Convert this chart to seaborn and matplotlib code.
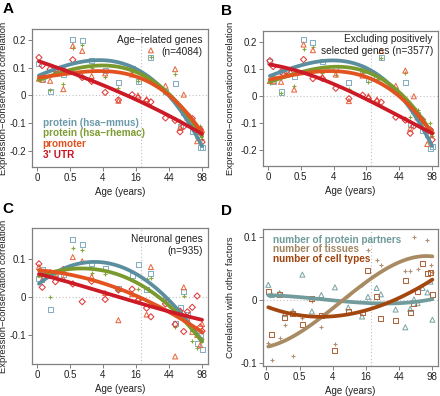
import numpy as np
import pandas as pd
import matplotlib
matplotlib.use('Agg')
import matplotlib.pyplot as plt
import seaborn as sns

# age axis: tick ages are drawn equally spaced
tick_ages = [0, 0.5, 4, 16, 44, 98]
tick_labels = ['0', '0.5', '4', '16', '44', '98']
ages = [0.03, 0.08, 0.2, 0.28, 0.4, 0.8, 1.8, 2.8, 4.8, 9.6, 14.6, 17.7,
        25, 28.6, 41, 54, 62, 68, 74, 82, 90, 95, 98]

# panel A - age-related genes
a_mmus = [0.116, 0.058, 0.016, 0.091, 0.074, 0.202, 0.198, 0.126, 0.090, 0.048, 0.096, 0.050,
          0.066, 0.137, 0.013, 0.042, -0.111, -0.060, -0.077, -0.130, -0.139, -0.187, -0.188]
a_rhemac = [0.058, 0.070, 0.020, 0.088, 0.041, 0.170, 0.182, 0.100, 0.065, 0.028, 0.084, 0.053,
            0.055, 0.139, 0.008, 0.078, -0.091, -0.062, -0.063, -0.107, -0.152, -0.109, -0.157]
a_prom = [0.061, 0.057, 0.053, 0.078, 0.023, 0.179, 0.161, 0.070, 0.080, -0.019, 0.076, 0.000,
          -0.013, 0.163, 0.035, 0.095, -0.117, 0.003, -0.080, -0.096, -0.165, -0.120, -0.125]
a_utr = [0.137, 0.108, 0.095, 0.092, 0.093, 0.129, 0.065, 0.051, 0.011, -0.016, 0.003, -0.009,
         -0.019, -0.023, -0.081, -0.090, -0.131, -0.112, -0.077, -0.083, -0.133, -0.123, -0.168]

# panel B - excluding positively selected genes
b_mmus = [0.128, 0.053, 0.015, 0.091, 0.072, 0.211, 0.201, 0.127, 0.107, 0.052, 0.097, 0.062,
          0.070, 0.144, 0.019, 0.049, -0.106, -0.053, -0.070, -0.128, -0.143, -0.196, -0.190]
b_rhemac = [0.049, 0.074, 0.013, 0.086, 0.037, 0.174, 0.181, 0.087, 0.077, 0.028, 0.089, 0.054,
            0.063, 0.143, 0.019, 0.085, -0.080, -0.046, -0.052, -0.098, -0.149, -0.102, -0.150]
b_prom = [0.056, 0.055, 0.053, 0.078, 0.024, 0.192, 0.171, 0.072, 0.080, -0.019, 0.076, 0.000,
          -0.013, 0.168, 0.038, 0.095, -0.122, -0.001, -0.080, -0.099, -0.179, -0.125, -0.130]
b_utr = [0.132, 0.110, 0.090, 0.092, 0.093, 0.136, 0.065, 0.066, 0.029, -0.010, 0.003, -0.009,
         -0.020, -0.023, -0.079, -0.090, -0.139, -0.112, -0.079, -0.088, -0.133, -0.126, -0.163]

# panel C - neuronal genes
c_mmus = [0.049, 0.073, -0.032, 0.062, 0.059, 0.152, 0.139, 0.089, 0.076, 0.022, 0.058, 0.086,
          0.020, 0.063, -0.006, -0.070, -0.028, 0.014, -0.045, -0.083, -0.122, -0.102, -0.139]
c_rhemac = [0.074, 0.070, 0.001, 0.060, 0.063, 0.130, 0.124, 0.063, 0.062, 0.019, 0.008, 0.021,
            0.047, 0.052, -0.007, -0.079, -0.042, 0.003, -0.062, -0.115, -0.134, -0.105, -0.111]
c_prom = [0.080, 0.046, 0.067, 0.060, 0.048, 0.106, 0.095, 0.054, 0.011, -0.061, 0.008, -0.003,
          -0.046, 0.080, -0.002, -0.157, -0.038, 0.026, -0.055, -0.092, -0.100, -0.127, -0.071]
c_utr = [0.088, 0.026, 0.057, 0.041, 0.073, 0.035, -0.012, 0.042, -0.006, 0.019, 0.021, -0.009,
         -0.029, -0.052, -0.018, -0.072, -0.037, -0.091, -0.039, -0.027, 0.003, -0.079, -0.090]

# panel D - correlation with other factors
d_partners = [0.024, 0.008, 0.011, -0.022, -0.018, 0.040, -0.018, 0.008, 0.020, -0.012, -0.026, 0.005,
              0.019, 0.009, -0.015, -0.043, -0.014, 0.001, -0.005, 0.019, 0.012, 0.029, -0.031]
d_tissues = [-0.067, -0.095, -0.060, -0.039, -0.089, -0.029, -0.001, -0.043, -0.070, 0.006, 0.023, 0.079,
             0.063, 0.055, 0.000, 0.046, 0.045, 0.100, 0.049, 0.118, 0.094, 0.055, 0.044]
d_cells = [0.014, -0.055, 0.008, -0.027, -0.021, -0.038, 0.003, -0.024, -0.079, -0.018, -0.019, 0.046,
           0.006, -0.029, -0.032, 0.031, -0.020, -0.005, 0.013, 0.058, 0.042, 0.044, 0.008]

series_names = ['protein (hsa\u2212mmus)', 'protein (hsa\u2212rhemac)', 'promoter', "3' UTR"]
d_names = ['number of protein partners', 'number of tissues', 'number of cell types']

sns.set_style('white')
plt.rcParams['font.family'] = ['Liberation Sans', 'DejaVu Sans']

# marker, point colour, line colour
styles = [('s', '#86aec0', '#5b8e9e'),
          ('+', '#86a83a', '#7a9a2e'),
          ('^', '#ea6a40', '#e2531f'),
          ('D', '#e23a3a', '#cc1a26')]
d_styles = [('^', '#7fa6a8', '#729c9c'),
            ('+', '#b09070', '#a88a63'),
            ('s', '#b0643a', '#a3470f')]


def age_pos(a):
    return np.interp(a, tick_ages, np.arange(len(tick_ages)))


def fmt(v):
    if abs(v) < 1e-9:
        return '0'
    return ('-' if v < 0 else '') + '%g' % abs(v)


def draw_panel(ax, values, stl, ylim, yticks, ylabel, labx, xlim=(-0.15, 5.18)):
    x = age_pos(ages)
    ax.axhline(0, color='#c0c0c0', lw=0.8, ls=(0, (1, 2)), zorder=0)
    ax.axvline(age_pos(20), color='#c0c0c0', lw=0.8, ls=(0, (1, 2)), zorder=0)
    for vals, (m, pc, lc) in zip(values, stl):
        df = pd.DataFrame({'pos': x, 'r': vals})
        if m == '+':
            sns.scatterplot(data=df, x='pos', y='r', marker='+', s=12, color=pc,
                            linewidth=0.8, ax=ax, zorder=2)
        else:
            sz = 10 if m == 'D' else 13
            sns.scatterplot(data=df, x='pos', y='r', marker=m, s=sz, color=pc,
                            facecolor='none', edgecolor=pc, linewidth=0.75, ax=ax, zorder=2)
    for vals, (m, pc, lc) in zip(values, stl):
        df = pd.DataFrame({'pos': x, 'r': vals})
        sns.regplot(data=df, x='pos', y='r', order=3, ci=None, scatter=False, ax=ax,
                    line_kws=dict(color=lc, lw=2.7, solid_capstyle='round', zorder=3))
    ax.set_xlim(*xlim)
    ax.set_ylim(*ylim)
    ax.set_xticks(range(len(tick_ages)))
    ax.set_xticklabels(tick_labels)
    ax.set_yticks(yticks)
    ax.set_yticklabels([fmt(v) for v in yticks])
    ax.set_xlabel('Age (years)', fontsize=7, color='#222222', labelpad=3)
    ax.set_ylabel(ylabel, fontsize=6.8, color='#222222')
    ax.yaxis.set_label_coords(labx, 0.5)
    for sp in ax.spines.values():
        sp.set_color('#808080')
        sp.set_linewidth(0.9)
    ax.tick_params(axis='both', direction='out', length=3, width=0.7, color='#808080',
                   labelsize=7, labelcolor='#222222', pad=1.5, bottom=True, left=True)


fig = plt.figure(figsize=(4.4, 3.96), dpi=100)
axA = fig.add_axes([0.0727, 0.5783, 0.40, 0.3485])
axB = fig.add_axes([0.5977, 0.5808, 0.3978, 0.3409])
axC = fig.add_axes([0.0727, 0.0808, 0.40, 0.3434])
axD = fig.add_axes([0.5977, 0.0758, 0.3978, 0.3459])

ylab = 'Expression\u2212conservation correlation'
draw_panel(axA, [a_mmus, a_rhemac, a_prom, a_utr], styles,
           (-0.258, 0.24), [-0.2, -0.1, 0, 0.1, 0.2], ylab, -0.136)
draw_panel(axB, [b_mmus, b_rhemac, b_prom, b_utr], styles,
           (-0.261, 0.2425), [-0.2, -0.1, 0, 0.1, 0.2], ylab, -0.158)
draw_panel(axC, [c_mmus, c_rhemac, c_prom, c_utr], styles,
           (-0.177, 0.183), [-0.1, 0, 0.1], ylab, -0.136)
draw_panel(axD, [d_partners, d_tissues, d_cells], d_styles,
           (-0.104, 0.112), [-0.1, 0, 0.1], 'Correlation with other factors', -0.16,
           xlim=(-0.1, 5.17))

axA.text(0.97, 0.955, 'Age\u2212related genes\n(n=4084)', transform=axA.transAxes,
         ha='right', va='top', multialignment='right', fontsize=7.3, color='#222222',
         linespacing=1.2)
axB.text(0.97, 0.975, 'Excluding positively\nselected genes (n=3577)', transform=axB.transAxes,
         ha='right', va='top', multialignment='right', fontsize=7.3, color='#222222',
         linespacing=1.2)
axC.text(0.97, 0.955, 'Neuronal genes\n(n=935)', transform=axC.transAxes,
         ha='right', va='top', multialignment='right', fontsize=7.3, color='#222222',
         linespacing=1.2)

leg_cols = ['#6a9aaa', '#7f9c33', '#e0501e', '#cc1020']
for i, (name, c) in enumerate(zip(series_names, leg_cols)):
    axA.text(0.06, 0.321 - i * 0.078, name, transform=axA.transAxes, ha='left',
             va='center', fontsize=7.2, fontweight='bold', color=c)
d_leg_cols = ['#6f9a9a', '#a08560', '#a0440f']
for i, (name, c) in enumerate(zip(d_names, d_leg_cols)):
    axD.text(0.055, 0.92 - i * 0.068, name, transform=axD.transAxes, ha='left',
             va='center', fontsize=7.2, fontweight='bold', color=c)

for lab, xx, yy in [('A', 0.005, 0.995), ('B', 0.503, 0.99), ('C', 0.005, 0.49), ('D', 0.503, 0.485)]:
    fig.text(xx, yy, lab, fontsize=11, fontweight='bold', ha='left', va='top', color='black')

fig.savefig('out.png', dpi=100)
